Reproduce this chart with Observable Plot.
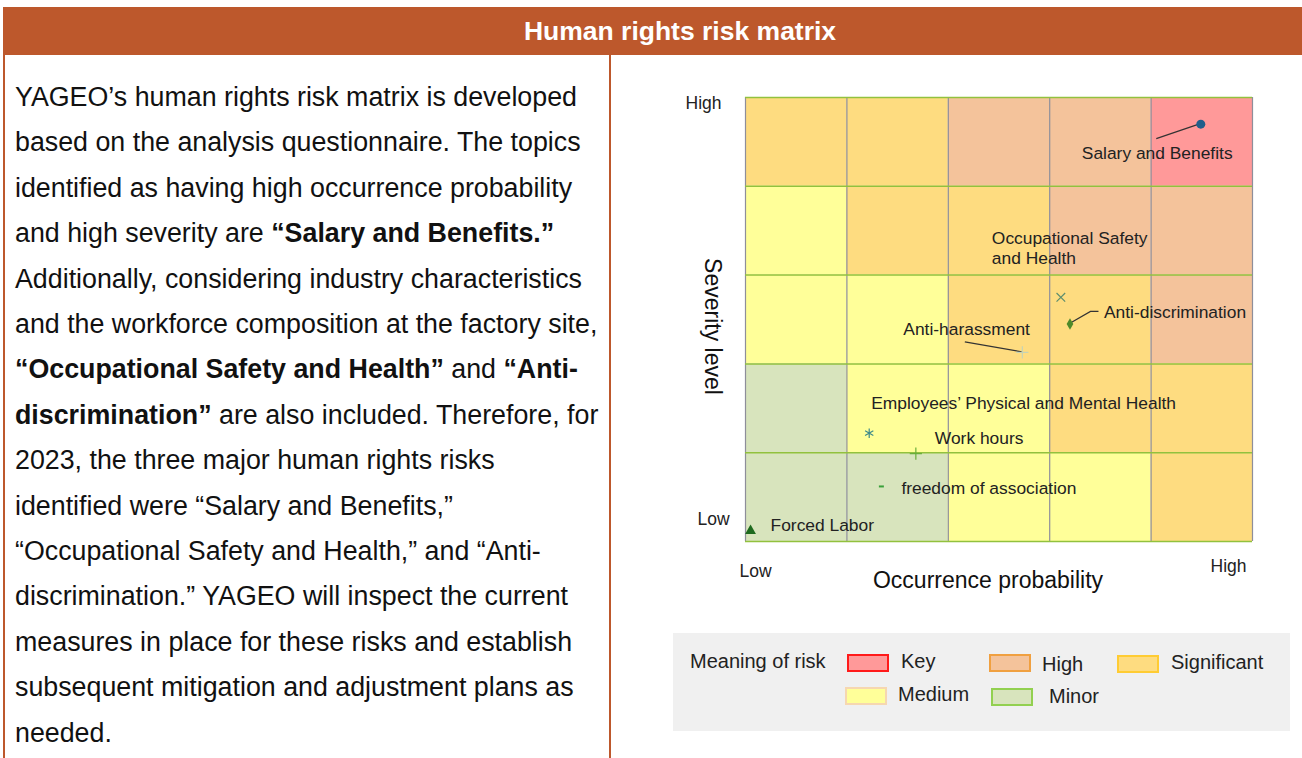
<!DOCTYPE html>
<html>
<head>
<meta charset="utf-8">
<script src="https://cdn.jsdelivr.net/npm/d3@7"></script>
<script src="https://cdn.jsdelivr.net/npm/@observablehq/plot@0.6"></script>
<style>
  html, body { margin:0; padding:0; width:1302px; height:758px; overflow:hidden; background:#fff;
    font-family:"Liberation Sans", Arial, sans-serif; }
  #header { position:absolute; left:3px; top:7px; width:1299px; height:48px; background:#BD582C; }
  #title { position:absolute; left:680px; top:7px; transform:translateX(-50%); line-height:48px;
    color:#fff; font-weight:bold; font-size:26.5px; white-space:nowrap; }
  .vline { position:absolute; top:55px; width:2px; height:703px; background:#BD582C; }
  #text { position:absolute; left:15px; top:75px; font-size:26.8px; line-height:45.4px; color:#111; white-space:nowrap; }
  #chart { position:absolute; left:620px; top:60px; }
  #legend { position:absolute; left:673px; top:633px; width:617px; height:98px; background:#F0F0F0;
    font-size:20px; color:#222; }
  #legend .lt { position:absolute; left:17px; top:28px; transform:translateY(-50%); white-space:nowrap; }
  #legend .sw { position:absolute; width:38px; height:14px; box-sizing:content-box; }
  #legend .lb { position:absolute; white-space:nowrap; transform:translateY(-50%); }
</style>
</head>
<body>
<div id="header"></div>
<div id="title">Human rights risk matrix</div>
<div class="vline" style="left:3px"></div>
<div class="vline" style="left:609px"></div>
<div id="text">
YAGEO’s human rights risk matrix is developed<br>
based on the analysis questionnaire. The topics<br>
identified as having high occurrence probability<br>
and high severity are <b>“Salary and Benefits.”</b><br>
Additionally, considering industry characteristics<br>
and the workforce composition at the factory site,<br>
<b>“Occupational Safety and Health”</b> and <b>“Anti-</b><br>
<b>discrimination”</b> are also included. Therefore, for<br>
2023, the three major human rights risks<br>
identified were “Salary and Benefits,”<br>
“Occupational Safety and Health,” and “Anti-<br>
discrimination.” YAGEO will inspect the current<br>
measures in place for these risks and establish<br>
subsequent mitigation and adjustment plans as<br>
needed.
</div>
<div id="chart"></div>
<div id="legend"></div>
<script>
// ---------- data ----------
const occurrenceLevels = [1, 2, 3, 4, 5];
const severityLevels = [5, 4, 3, 2, 1];           // rows, top to bottom
const riskGrid = [                                  // risk level per (severity row, occurrence column)
  ["Significant", "Significant", "High", "High", "Key"],
  ["Medium", "Significant", "Significant", "High", "High"],
  ["Medium", "Medium", "Significant", "Significant", "High"],
  ["Minor", "Medium", "Medium", "Significant", "Significant"],
  ["Minor", "Minor", "Medium", "Medium", "Significant"]
];
const riskLevels = ["Key", "High", "Significant", "Medium", "Minor"];
const riskTopics = ["Salary and Benefits", "Occupational Safety and Health", "Anti-discrimination",
  "Anti-harassment", "Employees’ Physical and Mental Health", "Work hours",
  "freedom of association", "Forced Labor"];
const topicOccurrence = [4.49, 3.11, 3.20, 2.73, 1.22, 1.68, 1.34, 0.05];
const topicSeverity   = [4.70, 2.75, 2.45, 2.13, 1.22, 0.99, 0.62, 0.12];
const severityTickLabels = ["Low", "High"];
const occurrenceTickLabels = ["Low", "High"];
const xTitle = "Occurrence probability";
const yTitle = "Severity level";
const legendTitle = "Meaning of risk";

// ---------- styles ----------
const levelFill   = ["#FF9999", "#F4C39B", "#FEDC80", "#FFFF99", "#D8E4BD"];
const levelStroke = ["#FF1A1A", "#F0A040", "#FFCC33", "#F6D7B0", "#92D050"];
const dash = { draw(ctx, size) { const w = Math.sqrt(size / Math.PI); ctx.moveTo(-w, 0); ctx.lineTo(w, 0); } };
const topicStyle = {
  "Salary and Benefits": { symbol: "circle", r: 4.5, fill: "#1F5F8B", dx: -119, dy: 28, leader: [[0,0],[-44,15]] },
  "Occupational Safety and Health": { symbol: "times", r: 4, stroke: "#5E8E6E", dx: -69, dy: -50, text: "Occupational Safety\nand Health" },
  "Anti-discrimination": { symbol: "diamond", r: 3.5, fill: "#4E8A2A", dx: 34, dy: -12, leader: [[0,0],[21,-12],[29,-12]] },
  "Anti-harassment": { symbol: "plus", r: 4, stroke: "#C5D3B5", dx: -119, dy: -24, leader: [[0,0],[-57,-10]] },
  "Employees’ Physical and Mental Health": { symbol: "asterisk", r: 4.5, stroke: "#3F8A8A", dx: 2, dy: -31 },
  "Work hours": { symbol: "plus", r: 4, stroke: "#6AAE3A", dx: 19, dy: -16 },
  "freedom of association": { symbol: dash, r: 2.5, stroke: "#3AA03A", sw: 2, dx: 20, dy: 1 },
  "Forced Labor": { symbol: "triangle", r: 4, fill: "#1E6A1E", dx: 20, dy: -6 }
};

// ---------- tables ----------
const cells = [];
severityLevels.forEach((s, i) => occurrenceLevels.forEach((o, j) => cells.push({ o, s, level: riskGrid[i][j] })));
const topics = riskTopics.map((name, i) => ({ name, o: topicOccurrence[i], s: topicSeverity[i] }));

const W = 680, H = 570, ML = 125, MR = 48, MT = 37, MB = 89;
const font = "Liberation Sans, Arial, sans-serif";

const leaderMark = (index, scales) => {
  const g = d3.create("svg:g").attr("stroke", "#333").attr("fill", "none").attr("stroke-width", 1.2);
  for (const t of topics) {
    const st = topicStyle[t.name];
    if (!st.leader) continue;
    const x0 = scales.x(t.o), y0 = scales.y(t.s);
    g.append("path").attr("d", d3.line()(st.leader.map(([dx, dy]) => [x0 + dx, y0 + dy])));
  }
  return g.node();
};

const marks = [
  Plot.rect(cells, { x1: d => d.o - 1, x2: d => d.o, y1: d => d.s - 1, y2: d => d.s, fill: "level" }),
  Plot.ruleX(d3.range(0, 6), { stroke: "#8E8E9A", strokeWidth: 1.2 }),
  Plot.ruleY(d3.range(0, 6), { stroke: "#92C13E", strokeWidth: 1.5 }),
  leaderMark
];
for (const t of topics) {
  const st = topicStyle[t.name];
  marks.push(Plot.dot([t], { x: "o", y: "s", symbol: () => st.symbol, r: st.r,
    fill: st.fill || "none", stroke: st.stroke || "none", strokeWidth: st.sw || 1.2 }));
  marks.push(Plot.text([t], { x: "o", y: "s", text: d => st.text || d.name, dx: st.dx, dy: st.dy,
    textAnchor: "start", lineAnchor: "middle", lineHeight: 1.15, fontSize: 17.4, fill: "#222" }));
}
const tick = { text: d => d, fontSize: 17.5, fill: "#222", textAnchor: "middle", lineAnchor: "middle" };
marks.push(
  Plot.text([severityTickLabels[1]], { ...tick, frameAnchor: "top-left", dx: -42, dy: 6 }),
  Plot.text([severityTickLabels[0]], { ...tick, frameAnchor: "bottom-left", dx: -32, dy: -22 }),
  Plot.text([occurrenceTickLabels[0]], { ...tick, frameAnchor: "bottom-left", dx: 10, dy: 30 }),
  Plot.text([occurrenceTickLabels[1]], { ...tick, frameAnchor: "bottom-right", dx: -24, dy: 25 }),
  Plot.text([xTitle], { frameAnchor: "bottom", dx: -11, dy: 39, text: d => d, fontSize: 23, fill: "#111",
    textAnchor: "middle", lineAnchor: "middle" }),
  Plot.text([yTitle], { frameAnchor: "left", dx: -33, dy: 7, rotate: 90, text: d => d, fontSize: 23, fill: "#111",
    textAnchor: "middle", lineAnchor: "middle" })
);

const chart = Plot.plot({
  width: W, height: H, marginLeft: ML, marginRight: MR, marginTop: MT, marginBottom: MB,
  x: { domain: [0, 5], axis: null },
  y: { domain: [0, 5], axis: null },
  color: { domain: riskLevels, range: levelFill },
  style: { fontFamily: font, background: "transparent", overflow: "visible" },
  marks
});
document.getElementById("chart").append(chart);

// ---------- legend ----------
const legend = d3.select("#legend");
legend.append("div").attr("class", "lt").text(legendTitle);
const legendPos = [[174, 21], [316, 21], [444, 22], [172, 54], [318, 55]];
const labelGap = [54, 53, 54, 53, 58];
const labelDy = [-2, 1, -2, -2, -1];
riskLevels.forEach((lv, i) => {
  const [lx, ly] = legendPos[i];
  legend.append("div").attr("class", "sw")
    .style("left", lx + "px").style("top", ly + "px")
    .style("background", levelFill[i]).style("border", `2px solid ${levelStroke[i]}`);
  legend.append("div").attr("class", "lb")
    .style("left", (lx + labelGap[i]) + "px").style("top", (ly + 9 + labelDy[i]) + "px").text(lv);
});
</script>
</body>
</html>
